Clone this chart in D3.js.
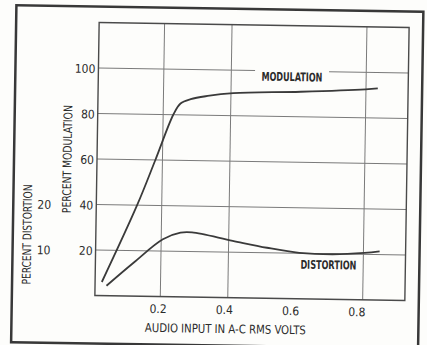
<!DOCTYPE html>
<html>
<head>
<meta charset="utf-8">
<title>Modulation and Distortion</title>
<style type="text/css">
	body { margin: 0; background: #fdfdfb; }
	text {
		font-family: "Liberation Sans Narrow", "DejaVu Sans Condensed", "Liberation Sans", sans-serif;
		font-size: 12px;
		fill: #2b2b2b;
	}
	.grid { stroke: #7a7a7a; stroke-width: 1; }
	.curve { fill: none; stroke: #3a3a3a; stroke-width: 1.8; }
</style>
<script src="https://d3js.org/d3.v7.min.js"></script>
</head>
<body>
<div id="chart"></div>
<script>

// data
var modInput = [0.026, 0.127, 0.179, 0.230, 0.251, 0.281, 0.331, 0.407, 0.607, 0.799, 0.835];
var modulation = [6, 40, 60, 80, 85, 87, 88.5, 89.9, 91, 92.5, 93];

var distInput = [0.04, 0.12, 0.205, 0.257, 0.291, 0.412, 0.514, 0.61, 0.708, 0.803, 0.848];
var distortion = [2.2, 7.4, 12.6, 14.1, 14.2, 12.5, 11.1, 10.1, 9.9, 10.3, 10.7];

var xTicks = [0.2, 0.4, 0.6, 0.8];
var xTickLabels = ["0.2", "0.4", "0.6", "0.8"];
var xGrid = [0.2, 0.4, 0.8];
var modTicks = [20, 40, 60, 80, 100];
var distTicks = [10, 20];

var W = 427, H = 345;

var x = d3.scaleLinear().domain([0.006, 0.925]).range([97, 407]);
var y = d3.scaleLinear().domain([0, 120]).range([298, 25]);
var yDist = d3.scaleLinear().domain([0, 60]).range([298, 25]);

var svg = d3.select("#chart").append("svg")
	.attr("width", W)
	.attr("height", H);

// the scan is slightly tilted
var g = svg.append("g")
	.attr("transform", "rotate(0.9 252 161)");

// outer frame
g.append("rect")
	.attr("x", 14).attr("y", 9)
	.attr("width", 407).attr("height", 337)
	.attr("fill", "none")
	.attr("stroke", "#383838")
	.attr("stroke-width", 2.5);

// labels first so the 100 line can skip round MODULATION
g.append("text")
	.attr("x", x(0.58))
	.attr("y", y(100) + 6)
	.attr("text-anchor", "middle")
	.attr("dominant-baseline", "central")
	.attr("textLength", 61)
	.attr("lengthAdjust", "spacingAndGlyphs")
	.style("font-weight", "bold")
	.text("MODULATION");

g.append("text")
	.attr("x", x(0.697))
	.attr("y", y(15))
	.attr("text-anchor", "middle")
	.attr("dominant-baseline", "central")
	.attr("textLength", 56)
	.attr("lengthAdjust", "spacingAndGlyphs")
	.style("font-weight", "bold")
	.text("DISTORTION");

// horizontal grid
modTicks.forEach(function(v) {
	if (v === 100) {
		g.append("line").attr("class", "grid")
			.attr("x1", x.range()[0]).attr("x2", x(0.58) - 37)
			.attr("y1", y(v)).attr("y2", y(v));
		g.append("line").attr("class", "grid")
			.attr("x1", x(0.58) + 37).attr("x2", x.range()[1])
			.attr("y1", y(v)).attr("y2", y(v));
	} else {
		g.append("line").attr("class", "grid")
			.attr("x1", x.range()[0]).attr("x2", x.range()[1])
			.attr("y1", y(v)).attr("y2", y(v));
	}
});

// vertical grid
g.selectAll(".vgrid")
	.data(xGrid)
	.enter().append("line")
	.attr("class", "grid vgrid")
	.attr("x1", function(d) { return x(d); })
	.attr("x2", function(d) { return x(d); })
	.attr("y1", y.range()[0])
	.attr("y2", y.range()[1]);

// plot frame
g.append("rect")
	.attr("x", x.range()[0])
	.attr("y", y.range()[1])
	.attr("width", x.range()[1] - x.range()[0])
	.attr("height", y.range()[0] - y.range()[1])
	.attr("fill", "none")
	.attr("stroke", "#4a4a4a")
	.attr("stroke-width", 1.4);

// tick labels
g.selectAll(".ytick")
	.data(modTicks)
	.enter().append("text")
	.attr("class", "ytick")
	.attr("x", 94)
	.attr("y", function(d) { return y(d) + 1; })
	.attr("text-anchor", "end")
	.attr("dominant-baseline", "central")
	.text(function(d) { return d; });

g.selectAll(".dtick")
	.data(distTicks)
	.enter().append("text")
	.attr("class", "dtick")
	.attr("x", 45)
	.attr("y", function(d) { return yDist(d) + 1; })
	.attr("text-anchor", "middle")
	.attr("dominant-baseline", "central")
	.text(function(d) { return d; });

g.selectAll(".xtick")
	.data(xTicks)
	.enter().append("text")
	.attr("class", "xtick")
	.attr("x", function(d, i) { return x(d) - 2 - i * 1.2; })
	.attr("y", 310.5)
	.attr("text-anchor", "middle")
	.attr("dominant-baseline", "central")
	.text(function(d, i) { return xTickLabels[i]; });

// axis titles
g.append("text")
	.attr("x", 228)
	.attr("y", 329.5)
	.attr("text-anchor", "middle")
	.attr("dominant-baseline", "central")
	.attr("textLength", 161)
	.attr("lengthAdjust", "spacingAndGlyphs")
	.text("AUDIO INPUT IN A-C RMS VOLTS");

g.append("text")
	.attr("transform", "translate(67.5,162) rotate(-90)")
	.attr("text-anchor", "middle")
	.attr("dominant-baseline", "central")
	.attr("textLength", 108)
	.attr("lengthAdjust", "spacingAndGlyphs")
	.text("PERCENT MODULATION");

g.append("text")
	.attr("transform", "translate(28.5,238) rotate(-90)")
	.attr("text-anchor", "middle")
	.attr("dominant-baseline", "central")
	.attr("textLength", 100)
	.attr("lengthAdjust", "spacingAndGlyphs")
	.text("PERCENT DISTORTION");

// curves
var modLine = d3.line()
	.x(function(d, i) { return x(modInput[i]); })
	.y(function(d) { return y(d); })
	.curve(d3.curveCatmullRom.alpha(0.5));

var distLine = d3.line()
	.x(function(d, i) { return x(distInput[i]); })
	.y(function(d) { return yDist(d); })
	.curve(d3.curveCatmullRom.alpha(0.5));

g.append("path")
	.datum(modulation)
	.attr("class", "curve")
	.attr("d", modLine);

g.append("path")
	.datum(distortion)
	.attr("class", "curve")
	.attr("d", distLine);

</script>
</body>
</html>
